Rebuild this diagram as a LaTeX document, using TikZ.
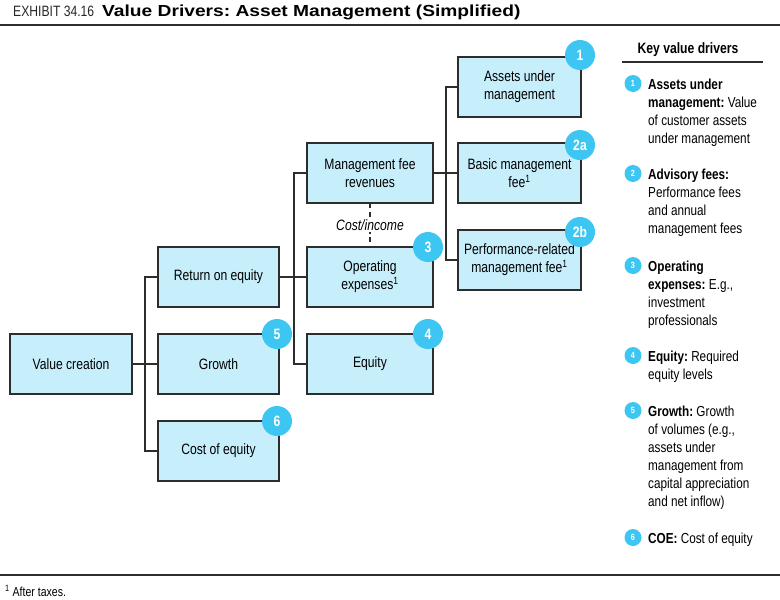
\documentclass[tikz,border=0pt]{standalone}
\usepackage{fontspec}
\setmainfont{Liberation Sans}[FakeStretch=0.81]
\newfontfamily\titlefont{Liberation Sans}[FakeStretch=1.2]
\usepackage{tikz}
\usetikzlibrary{positioning, calc}

\definecolor{boxfill}{RGB}{199,238,251}
\definecolor{badgecyan}{RGB}{62,198,242}
\definecolor{linegray}{RGB}{45,45,45}
\definecolor{titlegray}{RGB}{40,40,40}

\newcommand{\keylines}[1]{\begin{tabular}[t]{@{}l@{}}#1\end{tabular}}

\begin{document}
\frenchspacing
\begin{tikzpicture}[
  x=1pt, y=-1pt,
  font=\fontsize{15}{18}\selectfont,
  drv/.style={draw=linegray, line width=1.8pt, fill=boxfill, minimum width=121pt,
    minimum height=60pt, inner sep=2pt, outer sep=0pt, align=center},
  wide/.style={drv, minimum width=126pt},
  badge/.style={circle, fill=badgecyan, minimum size=30pt, inner sep=0pt,
    text=white, font=\fontsize{15}{15}\selectfont\bfseries},
  keybadge/.style={circle, fill=badgecyan, minimum size=17pt, inner sep=0pt,
    text=white, font=\fontsize{9}{9}\selectfont\bfseries},
  keytxt/.style={anchor=base west, inner sep=0pt,
    font=\fontsize{14.5}{18}\selectfont},
  link/.style={draw=linegray, line width=1.9pt},
]
  \useasboundingbox (0,0) rectangle (780,600);

  % heading and rules
  \node[anchor=base west, inner sep=0pt, text=titlegray] (exh) at (13,16) {EXHIBIT 34.16};
  \node[anchor=base west, inner sep=0pt, font=\fontsize{16}{18}\titlefont\bfseries] (ttl) at (102,16)
    {Value Drivers: Asset Management (Simplified)};
  \draw[line width=2.2pt, linegray] (0,25) -- (780,25);
  \draw[line width=1.4pt, linegray] (0,575) -- (780,575);
  \node[anchor=base west, inner sep=0pt, font=\fontsize{13}{15}\selectfont] (fn) at (5,596)
    {\textsuperscript{1} After taxes.};

  % tree
  \node[drv, minimum width=122pt] (vc) at (71,364) {Value creation};
  \node[drv, right=26pt of vc] (gro) {Growth};
  \node[drv, above=27pt of gro] (roe) {Return on equity};
  \node[drv, below=27pt of gro] (coe) {Cost of equity};

  \node[wide, right=28pt of gro] (eq) {Equity};
  \node[wide, above=27pt of eq] (opx) {Operating\\expenses\textsuperscript{1}};
  \node[wide, above=44pt of opx] (mfr) {Management fee\\revenues};

  \node[drv, minimum width=123pt, right=25pt of mfr] (bmf) {Basic management\\fee\textsuperscript{1}};
  \node[drv, minimum width=123pt, above=26pt of bmf] (aum) {Assets under\\management};
  \node[drv, minimum width=123pt, below=27pt of bmf] (prf) {Performance-related\\management fee\textsuperscript{1}};

  \foreach \n in {roe, gro, coe} \draw[link] (vc.east) -- ++(13,0) |- (\n.west);
  \foreach \n in {mfr, opx, eq} \draw[link] (roe.east) -- ++(15,0) |- (\n.west);
  \foreach \n in {aum, bmf, prf} \draw[link] (mfr.east) -- ++(13,0) |- (\n.west);

  \draw[link, dash pattern=on 5pt off 3.5pt, line width=1.3pt] (mfr.south) -- (opx.north)
    node[midway, fill=white, inner sep=1pt, font=\fontsize{15}{15}\selectfont\itshape] (ci) {Cost/income};

  \node[badge] (b1) at ([xshift=-1pt,yshift=2pt]aum.north east) {1};
  \node[badge] (b2a) at ([xshift=-1pt,yshift=-2pt]bmf.north east) {2a};
  \node[badge] (b2b) at ([xshift=-1pt,yshift=-2pt]prf.north east) {2b};
  \node[badge] (b3) at ([xshift=-5pt]opx.north east) {3};
  \node[badge] (b4) at ([xshift=-5pt]eq.north east) {4};
  \node[badge] (b5) at ([xshift=-2pt]gro.north east) {5};
  \node[badge] (b6) at ([xshift=-2pt]coe.north east) {6};

  % key
  \node[anchor=base, inner sep=0pt, font=\fontsize{15}{18}\selectfont\bfseries] (kvd) at (688,53)
    {Key value drivers};
  \draw[line width=1.2pt, linegray] (622,62) -- (763,62);

  \node[keytxt] (k1) at (648,89)
    {\keylines{\textbf{Assets under}\\\textbf{management:} Value\\of customer assets\\under management}};
  \node[keytxt] (k2) at (648,179)
    {\keylines{\textbf{Advisory fees:}\\Performance fees\\and annual\\management fees}};
  \node[keytxt] (k3) at (648,271)
    {\keylines{\textbf{Operating}\\\textbf{expenses:} E.g.,\\investment\\professionals}};
  \node[keytxt] (k4) at (648,361)
    {\keylines{\textbf{Equity:} Required\\equity levels}};
  \node[keytxt] (k5) at (648,416)
    {\keylines{\textbf{Growth:} Growth\\of volumes (e.g.,\\assets under\\management from\\capital appreciation\\and net inflow)}};
  \node[keytxt] (k6) at (648,543)
    {\keylines{\textbf{COE:} Cost of equity}};

  \node[keybadge] (kb1) at (633,83.5) {1};
  \node[keybadge] (kb2) at (633,173.5) {2};
  \node[keybadge] (kb3) at (633,265.5) {3};
  \node[keybadge] (kb4) at (633,355.5) {4};
  \node[keybadge] (kb5) at (633,410.5) {5};
  \node[keybadge] (kb6) at (633,537.5) {6};
\end{tikzpicture}
\end{document}
